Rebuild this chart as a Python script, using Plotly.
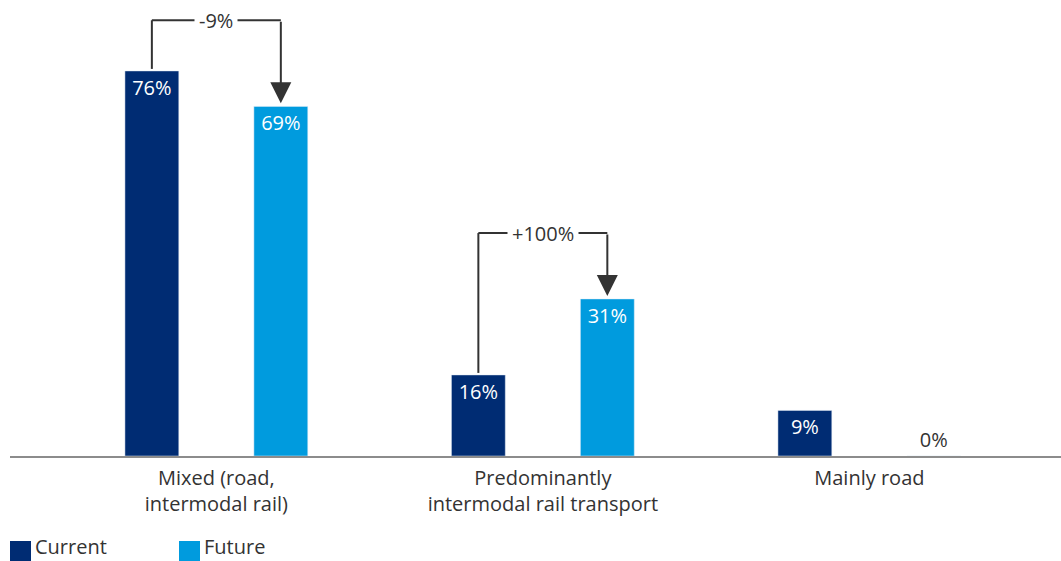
import plotly.graph_objects as go

categories = ["Mixed (road,<br>intermodal rail)", "Predominantly<br>intermodal rail transport", "Mainly road"]
current = [76, 16, 9]
future = [69, 31, 0]
changes = ["-9%", "+100%"]
bracket_levels = [86, 44]

C_CUR = "#002C73"
C_FUT = "#009BDE"
TXT = "#333333"
FONT = "Open Sans"
FS = 20

BAR_W = 0.165
OFF_CUR = -0.28
OFF_FUT = 0.115
x_idx = list(range(len(categories)))


def positions(vals):
    return ["inside" if v > 0 else "outside" for v in vals]


fig = go.Figure()
fig.add_trace(go.Bar(
    x=x_idx, y=current, name="Current", marker_color=C_CUR,
    width=BAR_W, offset=OFF_CUR,
    text=[f"{v}%" for v in current], textposition=positions(current),
    insidetextanchor="end",
    insidetextfont=dict(color="white", size=FS, family=FONT),
    outsidetextfont=dict(color=TXT, size=FS, family=FONT),
    showlegend=False, cliponaxis=False,
))
fig.add_trace(go.Bar(
    x=x_idx, y=future, name="Future", marker_color=C_FUT,
    width=BAR_W, offset=OFF_FUT,
    text=[f"{v}%" for v in future], textposition=positions(future),
    insidetextanchor="end",
    insidetextfont=dict(color="white", size=FS, family=FONT),
    outsidetextfont=dict(color=TXT, size=FS, family=FONT),
    showlegend=False, cliponaxis=False,
))

# change brackets
for i, (lab, lvl) in enumerate(zip(changes, bracket_levels)):
    xc = i + OFF_CUR + BAR_W / 2
    xf = i + OFF_FUT + BAR_W / 2
    line = dict(color=TXT, width=2)
    fig.add_shape(type="line", xref="x", yref="y", x0=xc, x1=xc,
                  y0=current[i] + 0.4, y1=lvl, line=line)
    fig.add_shape(type="line", xref="x", yref="y", x0=xc, x1=xf,
                  y0=lvl, y1=lvl, line=line)
    fig.add_annotation(x=xf, y=future[i] + 0.6, ax=xf, ay=lvl,
                       xref="x", yref="y", axref="x", ayref="y",
                       text="", showarrow=True, arrowhead=2, arrowsize=2.1,
                       arrowwidth=2, arrowcolor=TXT, standoff=0)
    fig.add_annotation(x=i, y=lvl, xref="x", yref="y", text=lab,
                       showarrow=False, bgcolor="white", borderpad=4,
                       font=dict(size=FS, color=TXT, family=FONT))

# manual legend
def px_to_paper_y(py):
    return (456 - py) / 456


def px_to_paper_x(px):
    return (px - 10) / 1051


legend_items = [("Current", C_CUR, 10), ("Future", C_FUT, 179)]
for name, col, px in legend_items:
    fig.add_shape(type="rect", xref="paper", yref="paper",
                  x0=px_to_paper_x(px), x1=px_to_paper_x(px + 21),
                  y0=px_to_paper_y(541), y1=px_to_paper_y(562),
                  fillcolor=col, line=dict(width=0))
    fig.add_annotation(xref="paper", yref="paper",
                       x=px_to_paper_x(px + 24), y=px_to_paper_y(561),
                       xanchor="left", yanchor="bottom", text=name,
                       showarrow=False, borderpad=0,
                       font=dict(size=FS, color=TXT, family=FONT))

fig.update_layout(
    width=1061, height=561,
    margin=dict(l=10, r=0, t=0, b=105),
    barmode="overlay",
    plot_bgcolor="white", paper_bgcolor="white",
    font=dict(family=FONT, size=FS, color=TXT),
    showlegend=False,
    xaxis=dict(tickmode="array", tickvals=x_idx, ticktext=categories,
               range=[-0.632, 2.587], showgrid=False, zeroline=False,
               showline=True, linecolor="#8c8c8c", linewidth=2,
               ticks="", ticklabelstandoff=3,
               tickfont=dict(size=FS, color=TXT, family=FONT)),
    yaxis=dict(range=[0, 90], visible=False, showgrid=False, zeroline=False),
)

fig.write_html(
    "out.html",
    config={"displayModeBar": False},
    post_script="document.body.style.margin='0';document.body.style.overflow='hidden';",
)
